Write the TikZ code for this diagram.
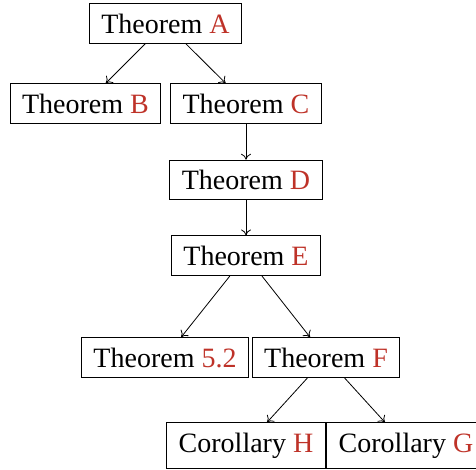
\documentclass[tikz,border=0pt]{standalone}
\usepackage{fontspec}
\setmainfont{Liberation Serif}
\usetikzlibrary{arrows.meta}
\definecolor{refred}{RGB}{190,50,40}
\newcommand{\lbl}[1]{\textcolor{refred}{#1}}
\begin{document}
\begin{tikzpicture}[x=1pt,y=-1pt,
  thm/.style={draw, line width=0.8pt, inner xsep=12pt, inner ysep=10pt, font=\fontsize{28}{34}\selectfont},
  link/.style={line width=0.8pt, -{To[length=6pt,width=10pt]}}]
\useasboundingbox (0,0) rectangle (476,470);
\node[thm] (A) at (165.5,23.5) {Theorem \lbl{A}};
\node[thm] (B) at (85.5,103.5) {Theorem \lbl{B}};
\node[thm] (C) at (246,103.5) {Theorem \lbl{C}};
\node[thm] (D) at (246,180) {Theorem \lbl{D}};
\node[thm] (E) at (246,255.7) {Theorem \lbl{E}};
\node[thm] (T52) at (165,357.5) {Theorem \lbl{5.2}};
\node[thm] (F) at (326,357.5) {Theorem \lbl{F}};
\node[thm] (H) at (246,445.5) {Corollary \lbl{H}};
\node[thm] (G) at (406,445.5) {Corollary \lbl{G}};
\draw[link] (A) -- (B);
\draw[link] (A) -- (C);
\draw[link] (C) -- (D);
\draw[link] (D) -- (E);
\draw[link] (E) -- (T52);
\draw[link] (E) -- (F);
\draw[link] (F) -- (H);
\draw[link] (F) -- (G);
\end{tikzpicture}
\end{document}
